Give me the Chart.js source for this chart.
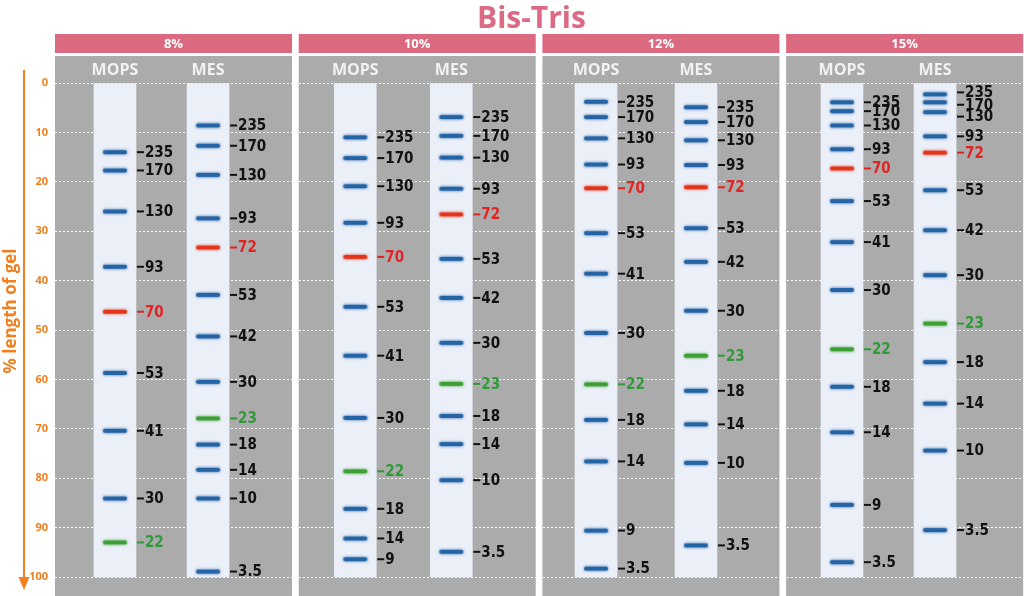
<!DOCTYPE html>
<html lang="en">
<head>
  <meta charset="UTF-8">
  <title>Bis-Tris protein marker migration</title>
  <script src="https://cdn.jsdelivr.net/npm/chart.js"></script>
  <style>
    html, body { margin: 0; padding: 0; background: #fff; overflow: hidden; }
    #gelChart { display: block; }
  </style>
</head>
<body>
<canvas id="gelChart" width="1024" height="596"></canvas>

<script>
  const gels = ['8%', '10%', '12%', '15%'];
  const buffers = ['MOPS', 'MES'];
  const mopsMarkers = ['235', '170', '130', '93', '70', '53', '41', '30', '22', '18', '14', '9', '3.5'];
  const mesMarkers = ['235', '170', '130', '93', '72', '53', '42', '30', '23', '18', '14', '10', '3.5'];

  // migration, % length of gel (null = band ran off / not shown)
  const mops8 = [14.0, 17.7, 26.0, 37.2, 46.3, 58.7, 70.4, 84.1, 93.0, null, null, null, null];
  const mes8 = [8.6, 12.7, 18.6, 27.4, 33.3, 42.9, 51.3, 60.5, 67.9, 73.2, 78.3, 84.1, 98.9];
  const mops10 = [11.0, 15.2, 20.9, 28.3, 35.2, 45.3, 55.2, 67.8, 78.6, 86.2, 92.2, 96.4, null];
  const mes10 = [6.9, 10.7, 15.1, 21.4, 26.6, 35.6, 43.5, 52.6, 60.9, 67.4, 73.1, 80.4, 94.9];
  const mops12 = [3.8, 6.9, 11.2, 16.5, 21.3, 30.4, 38.6, 50.6, 61.0, 68.2, 76.6, 90.6, 98.3];
  const mes12 = [4.9, 7.9, 11.6, 16.6, 21.1, 29.4, 36.2, 46.1, 55.2, 62.3, 69.1, 76.9, 93.6];
  const mops15 = [3.9, 5.7, 8.6, 13.4, 17.3, 23.9, 32.2, 41.9, 53.9, 61.5, 70.7, 85.4, 97.0];
  const mes15 = [2.3, 3.9, 5.9, 10.8, 14.1, 21.7, 29.8, 38.9, 48.7, 56.5, 64.9, 74.4, 90.5];
  // the three top labels of 15% MES are spread apart from their bands
  const mes15LabelPos = [1.9, 4.4, 6.8];

  const yTicks = [0, 10, 20, 30, 40, 50, 60, 70, 80, 90, 100];
  const redMarkers = ['70', '72'];
  const greenMarkers = ['22', '23'];

  const migration = { MOPS: [mops8, mops10, mops12, mops15], MES: [mes8, mes10, mes12, mes15] };
  // lane centre inside each gel panel (fraction of panel pitch)
  const laneOffset = { MOPS: [0.246, 0.232, 0.220, 0.229], MES: [0.628, 0.626, 0.630, 0.611] };
  const panelWidth = 0.9725;
  const orange = '#f07f1e';

  function markerColour(kda, kind) {
    if (redMarkers.includes(kda)) return kind === 'band' ? '#e2361c' : '#e02424';
    if (greenMarkers.includes(kda)) return kind === 'band' ? '#3d9e34' : '#2f9a38';
    return kind === 'band' ? '#2463a4' : '#111';
  }

  // blurred band sprite used as point style
  const bandCache = {};
  function bandImg(kda) {
    const c = markerColour(kda, 'band');
    if (bandCache[c]) return bandCache[c];
    const cv = document.createElement('canvas');
    cv.width = 32; cv.height = 12;
    const g = cv.getContext('2d');
    g.shadowColor = c;
    g.shadowBlur = 3;
    g.fillStyle = c;
    g.beginPath();
    g.roundRect(4, 4, 24, 4, 2);
    g.fill();
    bandCache[c] = cv;
    return cv;
  }

  const lanes = [];
  const bandSets = [];
  gels.forEach((gel, g) => {
    buffers.forEach(buf => {
      const x = g + laneOffset[buf][g];
      lanes.push({ x, y: [0, 100] });
      const markers = buf === 'MOPS' ? mopsMarkers : mesMarkers;
      const pos = migration[buf][g];
      const pts = [];
      markers.forEach((kda, k) => {
        if (pos[k] == null) return;
        const p = { x, y: pos[k], kda };
        if (pos === mes15 && mes15LabelPos[k] != null) p.ly = mes15LabelPos[k];
        pts.push(p);
      });
      bandSets.push({
        type: 'scatter',
        label: gel + ' ' + buf,
        data: pts,
        pointStyle: ctx => bandImg(ctx.raw ? ctx.raw.kda : ''),
        pointRadius: 12,
        order: 0
      });
    });
  });

  const gelFrame = {
    id: 'gelFrame',
    beforeDraw(chart) {
      const { ctx, chartArea: a, scales: { x } } = chart;
      ctx.save();
      ctx.textAlign = 'center';
      ctx.textBaseline = 'middle';
      gels.forEach((gel, g) => {
        const l = x.getPixelForValue(g), r = x.getPixelForValue(g + panelWidth);
        ctx.fillStyle = '#ababab';
        ctx.fillRect(l, a.top, r - l, a.bottom - a.top);
        ctx.fillStyle = '#db6a80';
        ctx.fillRect(l, a.top - 22, r - l, 19);
        ctx.fillStyle = '#fff';
        ctx.font = 'bold 13px "Open Sans", sans-serif';
        ctx.fillText(gel, (l + r) / 2, a.top - 12);
        ctx.fillStyle = '#f2f2f2';
        ctx.font = 'bold 16px "Open Sans", sans-serif';
        buffers.forEach(buf => {
          ctx.fillText(buf, x.getPixelForValue(g + laneOffset[buf][g]), a.top + 14);
        });
      });
      // title
      ctx.fillStyle = '#dc6a85';
      ctx.font = 'bold 30px "Open Sans", sans-serif';
      ctx.textBaseline = 'alphabetic';
      ctx.fillText('Bis-Tris', x.getPixelForValue(1.955), 28);
      ctx.restore();
    },
    afterDraw(chart) {
      const { ctx } = chart;
      ctx.save();
      ctx.strokeStyle = orange;
      ctx.fillStyle = orange;
      ctx.lineWidth = 2;
      ctx.beginPath();
      ctx.moveTo(24, 70);
      ctx.lineTo(24, 580);
      ctx.stroke();
      ctx.beginPath();
      ctx.moveTo(18.5, 577);
      ctx.lineTo(29.5, 577);
      ctx.lineTo(24, 590);
      ctx.closePath();
      ctx.fill();
      ctx.translate(11, 311);
      ctx.rotate(-Math.PI / 2);
      ctx.font = 'bold 17px "Open Sans", sans-serif';
      ctx.textAlign = 'center';
      ctx.textBaseline = 'middle';
      ctx.fillText('% length of gel', 0, 0);
      ctx.restore();
    }
  };

  const bandLabels = {
    id: 'bandLabels',
    afterDatasetsDraw(chart) {
      const { ctx, scales: { y } } = chart;
      ctx.save();
      ctx.font = 'bold 15px "Liberation Sans Narrow", "DejaVu Sans Condensed", sans-serif';
      ctx.textBaseline = 'middle';
      ctx.textAlign = 'left';
      chart.data.datasets.forEach((ds, i) => {
        if (ds.type !== 'scatter') return;
        chart.getDatasetMeta(i).data.forEach((pt, k) => {
          const raw = ds.data[k];
          const col = markerColour(raw.kda, 'text');
          const ly = raw.ly != null ? y.getPixelForValue(raw.ly) : pt.y;
          const x0 = pt.x + 22;
          ctx.fillStyle = col;
          ctx.fillRect(x0, ly - 1, 7, 2);
          ctx.fillText(raw.kda, x0 + 8, ly + 1);
        });
      });
      ctx.restore();
    }
  };

  new Chart(document.getElementById('gelChart'), {
    type: 'scatter',
    data: {
      datasets: [
        ...bandSets,
        { type: 'bar', label: 'lanes', data: lanes, backgroundColor: '#ebeff8', barThickness: 42, order: 1 }
      ]
    },
    options: {
      responsive: false,
      animation: false,
      events: [],
      layout: { autoPadding: false, padding: { top: 56, left: 0, right: 0, bottom: 0 } },
      scales: {
        x: { type: 'linear', min: 0, max: 3.976, display: false, offset: false },
        y: {
          type: 'linear',
          reverse: true,
          min: -5.466,
          max: 103.846,
          afterBuildTicks: s => { s.ticks = yTicks.map(v => ({ value: v })); },
          afterFit: s => { s.width = 55; s.paddingTop = 0; s.paddingBottom = 0; },
          grid: { color: 'rgba(255,255,255,0.95)', lineWidth: 1, drawTicks: false },
          border: { display: false, dash: [2, 2] },
          ticks: { color: orange, padding: 7, font: { family: 'Open Sans', size: 11, weight: 'bold' } }
        }
      },
      plugins: {
        legend: { display: false },
        tooltip: { enabled: false }
      }
    },
    plugins: [gelFrame, bandLabels]
  });
</script>
</body>
</html>
